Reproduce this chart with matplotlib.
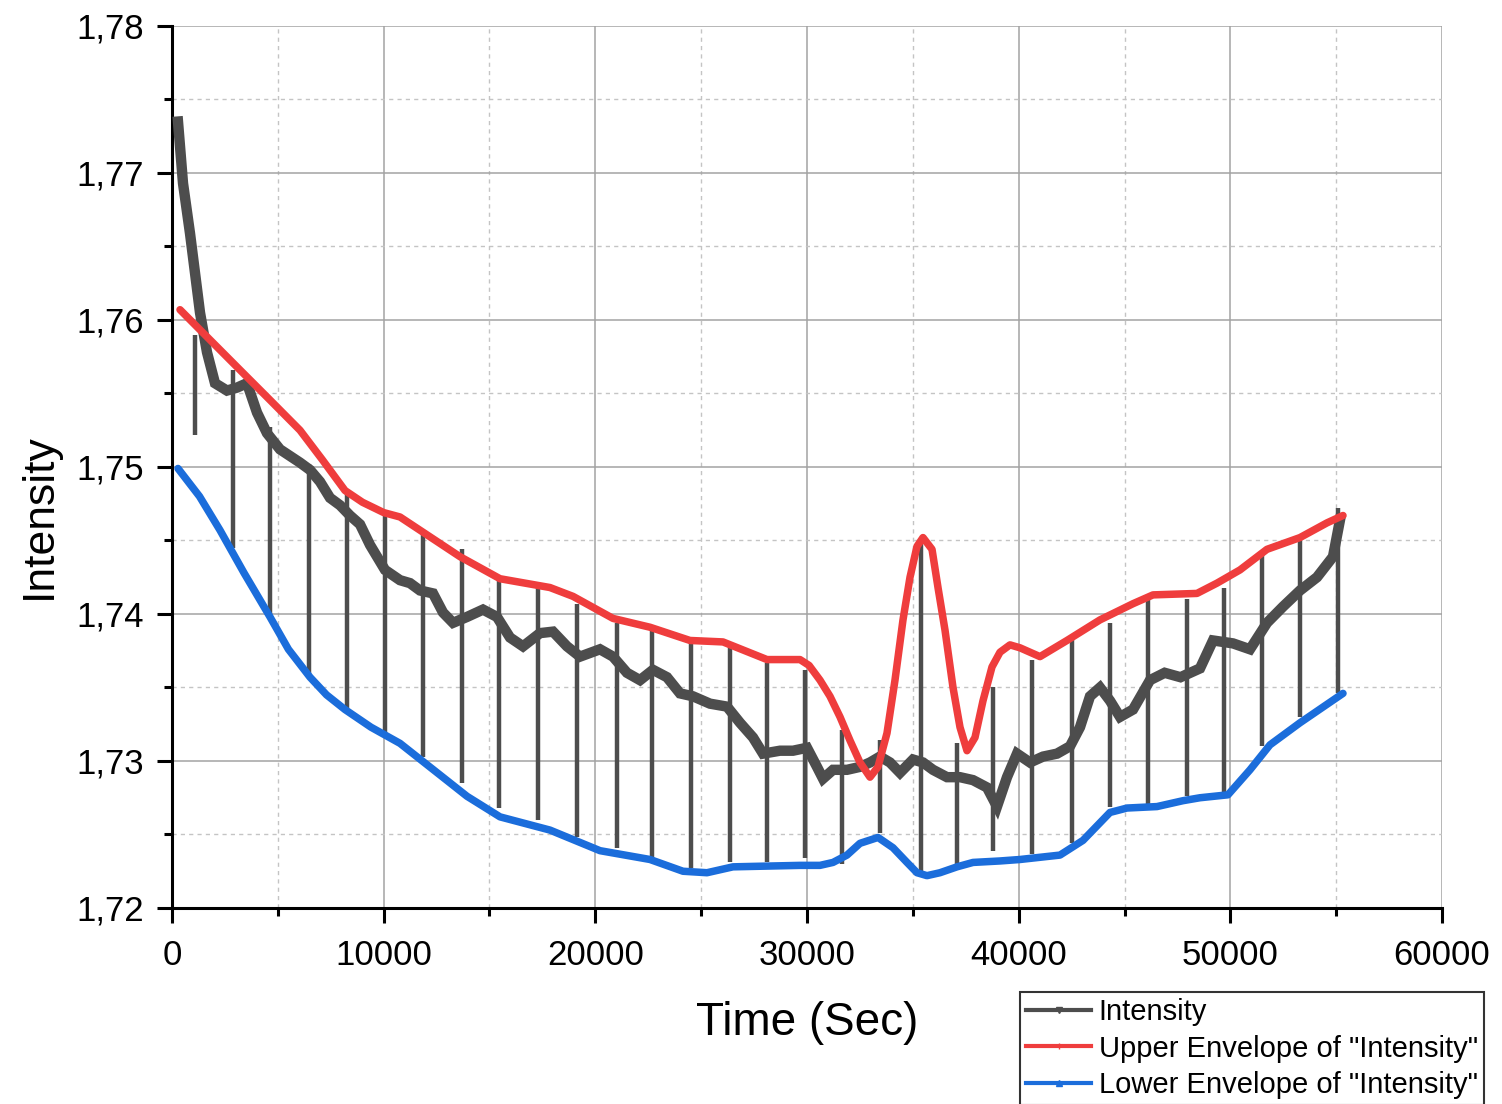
import matplotlib
matplotlib.use("Agg")
import matplotlib.pyplot as plt
from matplotlib.ticker import MultipleLocator, FuncFormatter
from matplotlib.lines import Line2D

plt.rcParams['font.family'] = ['Liberation Sans', 'DejaVu Sans']

# Intensity trace (time in s, value)
t_int = [283, 520, 850, 1087, 1323, 1654, 2031, 2598, 3071, 3543, 4016, 4488,
         5102, 6047, 6520, 6992, 7465, 7937, 8409, 8882, 9354, 10063, 10772,
         11244, 11717, 12331, 12803, 13276, 13937, 14693, 15354, 15968, 16583,
         17386, 18000, 18661, 19276, 20220, 20835, 21496, 22110, 22724, 23386,
         24000, 24614, 25417, 26220, 26835, 27449, 27921, 28724, 29339, 30000,
         30472, 30756, 31228, 31890, 32504, 32976, 33449, 33921, 34394, 35008,
         35480, 35953, 36614, 37228, 37843, 38504, 38976, 39449, 39921, 40535,
         41150, 41811, 42425, 42898, 43370, 43843, 44315, 44787, 45402, 46205,
         46898, 47646, 48567, 49181, 50126, 50929, 51732, 52488, 53291, 54094,
         54850, 55181]
v_int = [1.7735, 1.7693, 1.7659, 1.7632, 1.7605, 1.7578, 1.7557, 1.7552, 1.7554,
         1.7557, 1.7537, 1.7523, 1.7512, 1.7503, 1.7498, 1.7490, 1.7479, 1.7474,
         1.7467, 1.7461, 1.7447, 1.7430, 1.7423, 1.7421, 1.7416, 1.7414, 1.7401,
         1.7394, 1.7398, 1.7403, 1.7398, 1.7384, 1.7378, 1.7387, 1.7388, 1.7378,
         1.7371, 1.7376, 1.7371, 1.7360, 1.7355, 1.7362, 1.7357, 1.7346, 1.7344,
         1.7339, 1.7337, 1.7326, 1.7316, 1.7305, 1.7307, 1.7307, 1.7309, 1.7296,
         1.7288, 1.7294, 1.7294, 1.7296, 1.7299, 1.7303, 1.7299, 1.7292, 1.7301,
         1.7299, 1.7294, 1.7289, 1.7289, 1.7287, 1.7282, 1.7269, 1.7289, 1.7305,
         1.7299, 1.7303, 1.7305, 1.7310, 1.7323, 1.7344, 1.7350, 1.7341, 1.7330,
         1.7335, 1.7355, 1.7360, 1.7357, 1.7363, 1.7382, 1.7380, 1.7376, 1.7394,
         1.7405, 1.7416, 1.7425, 1.7439, 1.7464]

# periodic drop-outs of the intensity signal
t_spike = [1100, 2900, 4650, 6450, 8250, 10050, 11850, 13700, 15450, 17300,
           19150, 21000, 22700, 24500, 26350, 28100, 29900, 31650, 33450, 35400,
           37100, 38800, 40650, 42500, 44300, 46100, 47950, 49700, 51500, 53300,
           55100]
spike_hi = [1.7590, 1.7566, 1.7527, 1.7502, 1.7482, 1.7468, 1.7455, 1.7444,
            1.7424, 1.7418, 1.7407, 1.7394, 1.7389, 1.7381, 1.7378, 1.7367,
            1.7362, 1.7321, 1.7314, 1.7452, 1.7312, 1.7350, 1.7369, 1.7382,
            1.7394, 1.7410, 1.7410, 1.7418, 1.7441, 1.7450, 1.7472]
spike_lo = [1.7522, 1.7445, 1.7397, 1.7357, 1.7336, 1.7318, 1.7303, 1.7285,
            1.7268, 1.7260, 1.7248, 1.7241, 1.7234, 1.7227, 1.7231, 1.7231,
            1.7234, 1.7230, 1.7251, 1.7222, 1.7230, 1.7239, 1.7237, 1.7244,
            1.7269, 1.7271, 1.7276, 1.7278, 1.7310, 1.7330, 1.7346]

# upper envelope
t_up = [378, 3213, 4600, 6047, 7100, 8173, 9000, 10000, 10772, 13606, 15496,
        17858, 18945, 20835, 22583, 24472, 26031, 28110, 29669, 30100, 30614,
        31087, 31559, 32031, 32504, 32976, 33354, 33780, 34157, 34535, 34866,
        35197, 35480, 35906, 36189, 36520, 36898, 37228, 37559, 37937, 38315,
        38740, 39118, 39590, 40063, 41007, 42283, 43842, 45401, 46346, 48424,
        49370, 50457, 51732, 53291, 54567, 55323]
v_up = [1.7607, 1.7566, 1.7546, 1.7525, 1.7505, 1.7484, 1.7476, 1.7469, 1.7466,
        1.7439, 1.7424, 1.7418, 1.7412, 1.7397, 1.7391, 1.7382, 1.7381, 1.7369,
        1.7369, 1.7365, 1.7355, 1.7344, 1.7330, 1.7314, 1.7299, 1.7289, 1.7296,
        1.7319, 1.7355, 1.7396, 1.7425, 1.7446, 1.7452, 1.7444, 1.7418, 1.7389,
        1.7350, 1.7323, 1.7307, 1.7316, 1.7341, 1.7364, 1.7374, 1.7379, 1.7377,
        1.7371, 1.7382, 1.7396, 1.7407, 1.7413, 1.7414, 1.7421, 1.7430, 1.7444,
        1.7452, 1.7462, 1.7467]

# lower envelope
t_lo = [283, 1300, 2268, 3400, 4630, 5500, 6520, 7300, 8173, 9400, 10772, 13937,
        15496, 17858, 20220, 22583, 24142, 25275, 26503, 29669, 30614, 31228,
        31890, 32504, 33354, 34063, 34724, 35197, 35669, 36283, 37087, 37843,
        39118, 40063, 41953, 43039, 44314, 45117, 46535, 47763, 48567, 49889,
        50929, 51874, 53291, 55323]
v_lo = [1.7499, 1.7480, 1.7457, 1.7428, 1.7398, 1.7376, 1.7357, 1.7345, 1.7335,
        1.7323, 1.7312, 1.7276, 1.7262, 1.7253, 1.7239, 1.7233, 1.7225, 1.7224,
        1.7228, 1.7229, 1.7229, 1.7231, 1.7236, 1.7244, 1.7248, 1.7241, 1.7231,
        1.7224, 1.7222, 1.7224, 1.7228, 1.7231, 1.7232, 1.7233, 1.7236, 1.7246,
        1.7265, 1.7268, 1.7269, 1.7273, 1.7275, 1.7277, 1.7294, 1.7311, 1.7326,
        1.7346]

GRAY = '#4d4d4d'
RED = '#ef3d3d'
BLUE = '#1b6ddb'

fig = plt.figure(figsize=(15.02, 11.04), dpi=100)
ax = fig.add_axes([172 / 1502, 1 - 908 / 1104, 1270 / 1502, 882 / 1104])

ax.vlines(t_spike, spike_lo, spike_hi, color=GRAY, lw=3.2, zorder=3)
ax.plot(t_int, v_int, color=GRAY, lw=7.5, solid_joinstyle='miter', zorder=3)
ax.plot(t_up, v_up, color=RED, lw=5.4, solid_capstyle='round',
        solid_joinstyle='round', zorder=4)
ax.plot(t_lo, v_lo, color=BLUE, lw=5.4, solid_capstyle='round',
        solid_joinstyle='round', zorder=4)

ax.set_xlim(0, 60000)
ax.set_ylim(1.72, 1.78)
ax.xaxis.set_major_locator(MultipleLocator(10000))
ax.xaxis.set_minor_locator(MultipleLocator(5000))
ax.yaxis.set_major_locator(MultipleLocator(0.01))
ax.yaxis.set_minor_locator(MultipleLocator(0.005))
ax.yaxis.set_major_formatter(FuncFormatter(lambda v, p: f"{v:.2f}".replace('.', ',')))

ax.grid(True, which='major', color='#a3a3a3', lw=1.1, ls='-')
ax.grid(True, which='minor', color='#c4c4c4', lw=1.0, ls=(0, (3, 3)))
ax.set_axisbelow(True)
fig.canvas.draw()
for tk in [ax.xaxis.get_major_ticks()[0], ax.xaxis.get_major_ticks()[-1],
           ax.yaxis.get_major_ticks()[0], ax.yaxis.get_major_ticks()[-1]]:
    tk.gridline.set_visible(False)

for s in ['top', 'right']:
    ax.spines[s].set_visible(False)
for s in ['left', 'bottom']:
    ax.spines[s].set_linewidth(2.2)

ax.tick_params(which='major', direction='out', length=11, width=2.2, labelsize=25)
ax.tick_params(which='minor', direction='out', length=6, width=2.2)
ax.tick_params(axis='x', which='major', pad=11)
ax.tick_params(axis='y', which='major', pad=9)

ax.set_xlabel('Time (Sec)', fontsize=33)
ax.set_ylabel('Intensity', fontsize=32)
ax.xaxis.set_label_coords(0.5, -0.105)
ax.yaxis.set_label_coords(-0.088, 0.444)

handles = [
    Line2D([], [], color=GRAY, lw=3, marker='v', markersize=4),
    Line2D([], [], color=RED, lw=3, marker='|', markersize=4),
    Line2D([], [], color=BLUE, lw=3, marker='^', markersize=4),
]
labels = ['Intensity', 'Upper Envelope of "Intensity"', 'Lower Envelope of "Intensity"']
leg = ax.legend(handles, labels, loc='upper left',
                bbox_to_anchor=(1020 / 1502, 1 - 992 / 1104),
                bbox_transform=fig.transFigure, fontsize=21, frameon=True,
                fancybox=False, edgecolor='black', borderaxespad=0,
                borderpad=0.2, handlelength=2.25, handletextpad=0.25,
                labelspacing=0.3)
leg.get_frame().set_linewidth(1.5)

fig.savefig('out.png', dpi=100)
